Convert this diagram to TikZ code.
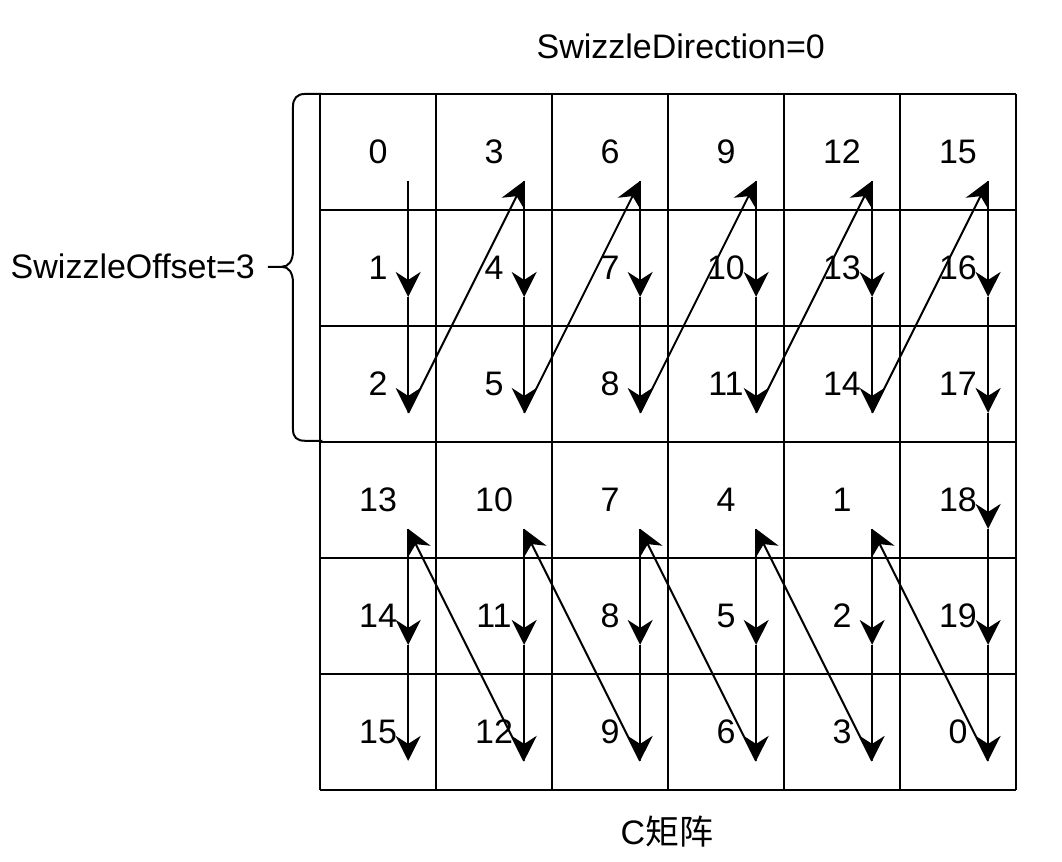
\documentclass[tikz,border=0pt]{standalone}
\usepackage{fontspec}
\setmainfont{Liberation Sans}
\newfontfamily\cjk{Noto Sans CJK SC}
\usetikzlibrary{arrows.meta}

\tikzset{
  label text/.style={font=\fontsize{17}{20}\selectfont, inner sep=0pt},
  flow/.style={line width=1pt, -{Stealth[length=12.5pt, width=12.5pt, inset=4pt]}},
}

\begin{document}
\begin{tikzpicture}[x=58pt, y=-58pt, line width=1pt]
\useasboundingbox (-2.759,-0.810) rectangle (6.397,6.621);
% matrix grid
\foreach \i in {0,...,6} {
  \draw (\i,0) -- (\i,6);
  \draw (0,\i) -- (6,\i);
}
% cell numbers and arrow points
\foreach \c in {0,...,5} {
  \foreach \r in {0,...,5} {
    \coordinate (p-\c-\r) at (\c+0.76,\r+0.75);
  }
}
\foreach \c in {0,...,5} {
  \foreach \r in {0,1,2} {
    \pgfmathtruncatemacro{\n}{3*\c+\r}
    \node[label text] (n-\c-\r) at (\c+0.5,\r+0.5) {\n};
  }
}
\foreach \c in {0,...,4} {
  \foreach \r in {3,4,5} {
    \pgfmathtruncatemacro{\n}{3*(4-\c)+\r-2}
    \node[label text] (n-\c-\r) at (\c+0.5,\r+0.5) {\n};
  }
}
\node[label text] (n-5-3) at (5.5,3.5) {18};
\node[label text] (n-5-4) at (5.5,4.5) {19};
\node[label text] (n-5-5) at (5.5,5.5) {0};
% top half: down then up to the next column
\foreach \c [evaluate=\c as \d using int(\c+1)] in {0,...,4} {
  \draw[flow] (p-\c-0) -- (p-\c-1);
  \draw[flow] (p-\c-1) -- (p-\c-2);
  \draw[flow] (p-\c-2) -- (p-\d-0);
}
% last column straight down
\foreach \r [evaluate=\r as \s using int(\r+1)] in {0,...,4} {
  \draw[flow] (p-5-\r) -- (p-5-\s);
}
% bottom half: back to the left column
\foreach \c [evaluate=\c as \d using int(\c+1)] in {0,...,4} {
  \draw[flow] (p-\d-5) -- (p-\c-3);
  \draw[flow] (p-\c-3) -- (p-\c-4);
  \draw[flow] (p-\c-4) -- (p-\c-5);
}
% brace for the offset
\coordinate (brace tip) at (-0.45,1.49);
\draw (0.02,0) -- (-0.13,0) .. controls (-0.2,0) and (-0.233,0.04) .. (-0.233,0.11)
  -- (-0.233,1.35) .. controls (-0.233,1.44) and (-0.27,1.49) .. (-0.33,1.49) -- (brace tip);
\draw (-0.33,1.49) .. controls (-0.27,1.49) and (-0.233,1.54) .. (-0.233,1.63)
  -- (-0.233,2.89) .. controls (-0.233,2.96) and (-0.2,2.99) .. (-0.13,2.99) -- (0.02,2.99);
\node[label text, anchor=east, inner xsep=6pt] (offset) at (brace tip) {SwizzleOffset=3};
\node[label text] (direction) at (3.11,-0.414) {SwizzleDirection=0};
\node[label text] (matrix name) at (2.99,6.36) {C{\cjk 矩阵}};
\end{tikzpicture}
\end{document}
